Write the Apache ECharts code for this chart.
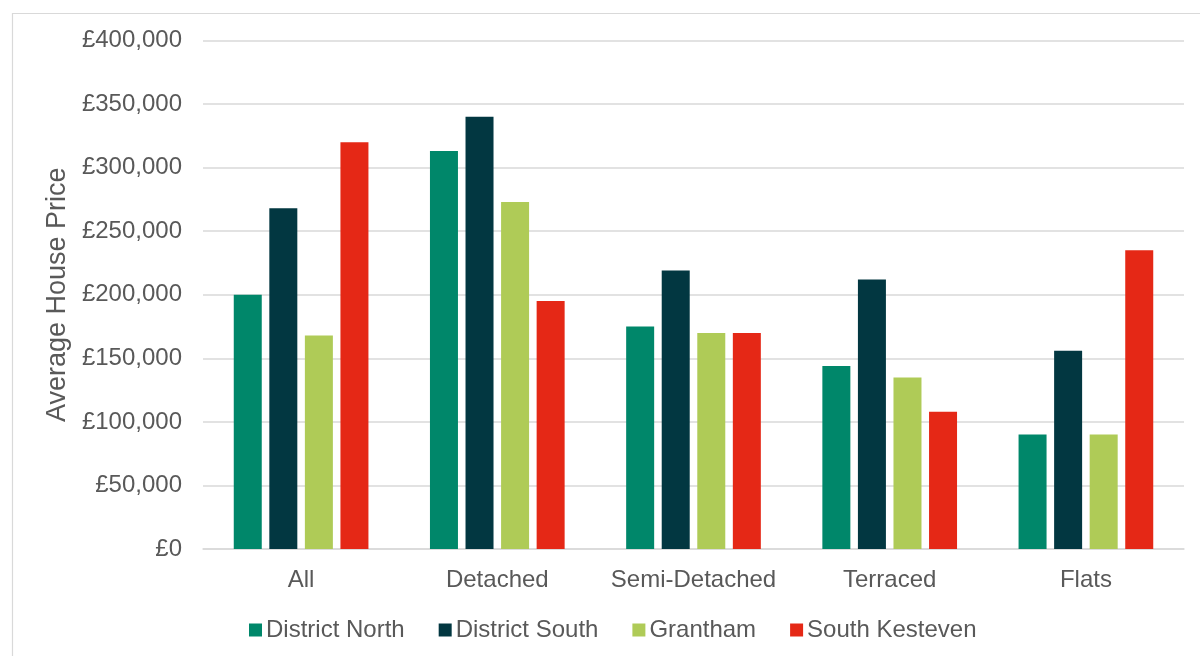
<!DOCTYPE html>
<html>
<head>
<meta charset="utf-8">
<title>Average House Price by Property Type</title>
<script src="https://cdn.jsdelivr.net/npm/echarts@6/dist/echarts.min.js"></script>
<style>
  html, body { margin: 0; padding: 0; background: #ffffff; }
  #chart { width: 1200px; height: 656px; }
</style>
</head>
<body>
<div id="chart"></div>
<script>
// Property types along the x axis
const categories = ['All', 'Detached', 'Semi-Detached', 'Terraced', 'Flats'];

// Average house price (£) per area
const districtNorth  = [200000, 313000, 175000, 144000, 90000];
const districtSouth  = [268000, 340000, 219000, 212000, 156000];
const grantham       = [168000, 273000, 170000, 135000, 90000];
const southKesteven  = [320000, 195000, 170000, 108000, 235000];

// Value axis ticks
const yTicks = [0, 50000, 100000, 150000, 200000, 250000, 300000, 350000, 400000];

const seriesNames  = ['District North', 'District South', 'Grantham', 'South Kesteven'];
const seriesColors = ['#00876a', '#023741', '#afcb57', '#e52816'];
const seriesData   = [districtNorth, districtSouth, grantham, southKesteven];

const textColor = '#595959';
const fontFamily = '"Liberation Sans", Arial, sans-serif';

const fmt = v => '£' + v.toLocaleString('en-GB');

const chart = echarts.init(document.getElementById('chart'), null, { renderer: 'canvas' });

chart.setOption({
  backgroundColor: '#ffffff',
  animation: false,
  textStyle: { fontFamily: fontFamily, color: textColor },
  graphic: [{
    type: 'rect',
    left: 10, top: 11,
    shape: { width: 1200, height: 660 },
    style: { fill: 'none', stroke: '#d9d9d9', lineWidth: 1.2 },
    silent: true, z: -1
  }],
  grid: { left: 203, right: 16, top: 40.5, bottom: 107, containLabel: false },
  legend: {
    data: seriesNames,
    left: 249,
    top: 618,
    padding: 0,
    itemWidth: 13,
    itemHeight: 13,
    itemGap: 34,
    icon: 'rect',
    textStyle: { fontSize: 24, color: textColor, fontFamily: fontFamily, padding: [0, 0, 0, -1] }
  },
  xAxis: {
    type: 'category',
    data: categories,
    axisLine: { show: true, lineStyle: { color: '#d9d9d9', width: 1.5 } },
    axisTick: { show: false },
    axisLabel: { interval: 0, fontSize: 24, color: textColor, margin: 19, fontFamily: fontFamily }
  },
  yAxis: {
    type: 'value',
    min: yTicks[0],
    max: yTicks[yTicks.length - 1],
    interval: yTicks[1] - yTicks[0],
    name: 'Average House Price',
    nameLocation: 'middle',
    nameGap: 123,
    nameRotate: 90,
    nameTextStyle: { fontSize: 27, color: textColor, fontFamily: fontFamily },
    axisLine: { show: false },
    axisTick: { show: false },
    splitLine: { lineStyle: { color: '#d9d9d9', width: 1.5 } },
    axisLabel: { fontSize: 24, color: textColor, margin: 21, fontFamily: fontFamily, formatter: fmt }
  },
  series: seriesNames.map((name, i) => ({
    name: name,
    type: 'bar',
    data: seriesData[i],
    barWidth: 28,
    barGap: '27%',
    itemStyle: { color: seriesColors[i] }
  }))
});
</script>
</body>
</html>
